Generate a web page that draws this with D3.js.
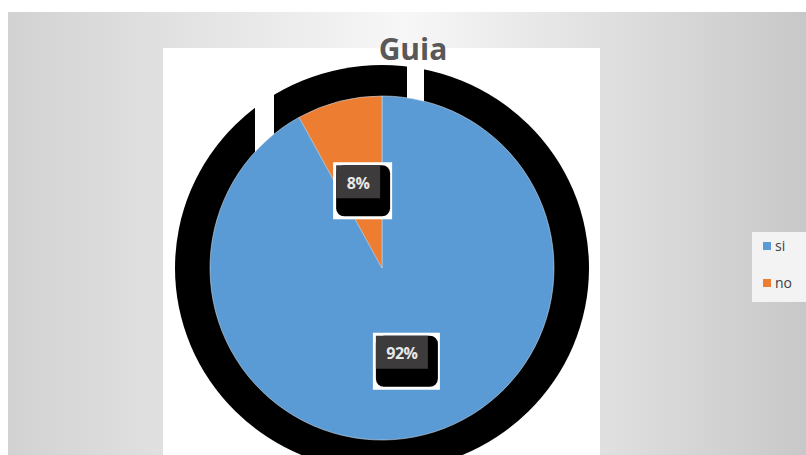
<!DOCTYPE html>
<html>
<head>
<meta charset="utf-8">
<script src="https://cdn.jsdelivr.net/npm/d3@7"></script>
<style>
  html, body { margin: 0; padding: 0; background: #fff; }
  svg { display: block; }
</style>
</head>
<body>
<div id="chart"></div>
<script>
// chart data
const categories = ["si", "no"];
const values = [92, 8];
const labels = ["92%", "8%"];
const colors = ["#5B9BD5", "#ED7D31"];
const title = "Guia";

const W = 806, H = 455;
const cx = 382, cy = 268, R = 172;

const svg = d3.select("#chart").append("svg")
    .attr("width", W)
    .attr("height", H);

// slide background gradient
const defs = svg.append("defs");
const grad = defs.append("linearGradient").attr("id", "bg").attr("x1", 0).attr("x2", 1).attr("y1", 0).attr("y2", 0);
grad.append("stop").attr("offset", "0%").attr("stop-color", "#d2d2d2");
grad.append("stop").attr("offset", "50%").attr("stop-color", "#f7f7f7");
grad.append("stop").attr("offset", "100%").attr("stop-color", "#c8c8c8");

svg.append("rect").attr("x", 8).attr("y", 12).attr("width", W - 8).attr("height", H - 12).attr("fill", "url(#bg)");

// chart area
svg.append("rect").attr("x", 163).attr("y", 48).attr("width", 437).attr("height", H - 48).attr("fill", "#fff");

const g = svg.append("g").attr("transform", `translate(${cx},${cy})`);

// black halo ring behind the pie, with two gaps near the top
g.append("ellipse").attr("rx", 207).attr("ry", 203).attr("fill", "#000");
g.append("rect").attr("x", -127).attr("y", -215).attr("width", 19).attr("height", 100).attr("fill", "#fff");
g.append("rect").attr("x", 25).attr("y", -215).attr("width", 17).attr("height", 60).attr("fill", "#fff");

const pie = d3.pie().sort(null).value(d => d)(values);
const arc = d3.arc().innerRadius(0).outerRadius(R);
const labelArc = d3.arc().innerRadius(88).outerRadius(88);

g.selectAll("path.slice")
    .data(pie)
    .enter().append("path")
    .attr("class", "slice")
    .attr("d", arc)
    .attr("fill", (d, i) => colors[i])
    .attr("stroke", "#c9d6e3")
    .attr("stroke-width", 0.6);

// data labels
const lab = g.selectAll("g.lab")
    .data(pie)
    .enter().append("g")
    .attr("class", "lab")
    .attr("transform", d => `translate(${labelArc.centroid(d)})`);

lab.each(function(d, i) {
    const s = d3.select(this);
    const tw = labels[i].length === 2 ? 44 : 52;
    const th = 33;
    const x0 = -tw / 2 - 2, y0 = -th / 2 - 1;
    s.append("rect").attr("x", x0 - 3).attr("y", y0 - 3)
        .attr("width", tw + 15).attr("height", th + 24).attr("fill", "#fff");
    s.append("rect").attr("x", x0).attr("y", y0)
        .attr("width", tw + 10).attr("height", th + 18)
        .attr("rx", 8).attr("fill", "#000");
    s.append("rect").attr("x", x0).attr("y", y0)
        .attr("width", tw).attr("height", th)
        .attr("fill", "#3d3b3b");
    s.append("text")
        .attr("x", -2).attr("y", 6)
        .attr("text-anchor", "middle")
        .attr("font-family", "'Open Sans', sans-serif")
        .attr("font-weight", "bold")
        .attr("font-size", 16)
        .attr("letter-spacing", -0.5)
        .attr("fill", "#e8e8e8")
        .text(labels[i]);
});

// title drawn over the halo
svg.append("text")
    .attr("x", 413).attr("y", 60)
    .attr("text-anchor", "middle")
    .attr("font-family", "'Open Sans', sans-serif")
    .attr("font-weight", "bold")
    .attr("font-size", 30)
    .attr("fill", "#595959")
    .text(title);

// legend
const legend = svg.append("g").attr("transform", "translate(752,232)");
legend.append("rect").attr("width", 54).attr("height", 70).attr("fill", "#f3f3f3");
const item = legend.selectAll("g.item")
    .data(categories)
    .enter().append("g")
    .attr("class", "item")
    .attr("transform", (d, i) => `translate(11,${10 + i * 37})`);
item.append("rect").attr("width", 8).attr("height", 8).attr("fill", (d, i) => colors[i]);
item.append("text")
    .attr("x", 12).attr("y", 9)
    .attr("font-family", "'Open Sans', sans-serif")
    .attr("font-size", 14)
    .attr("fill", "#404040")
    .text(d => d);
</script>
</body>
</html>
